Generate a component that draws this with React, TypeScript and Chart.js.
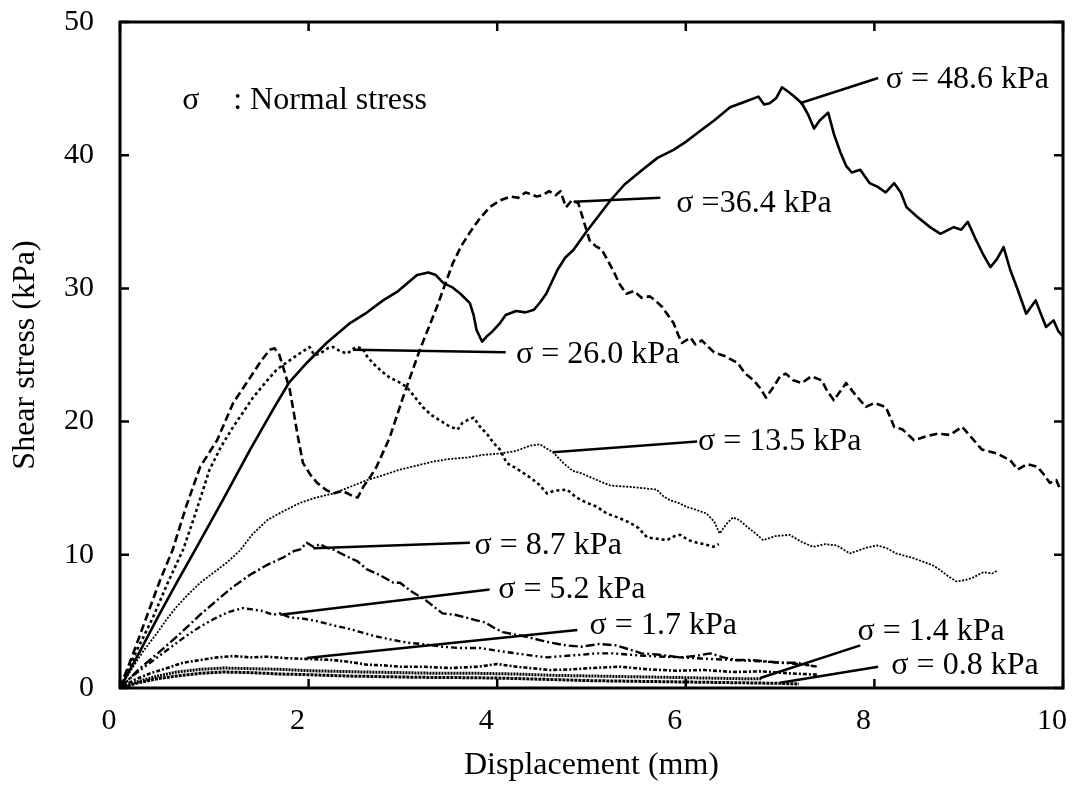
import React, { useEffect, useRef } from "react";
import { Chart, registerables } from "chart.js";

Chart.register(...registerables);

const FONT = '"Liberation Serif", "Times New Roman", Times, serif';

// ---- axis ticks ----
const xTickValues = [0, 2, 4, 6, 8, 10];
const yTickValues = [0, 10, 20, 30, 40, 50];

// ---- series (displacement mm, shear stress kPa) ----
const s486: [number, number][] = [
  [0, 0], [0.2, 2.6], [0.4, 5.3], [0.6, 7.9], [0.8, 10.4], [1.09, 14.1], [1.38, 17.9], [1.63, 21.0],
  [1.79, 22.9], [1.98, 24.4], [2.19, 25.9], [2.44, 27.4], [2.6, 28.1], [2.79, 29.1], [2.95, 29.8],
  [3.15, 31.0], [3.27, 31.2], [3.35, 31.0], [3.43, 30.4], [3.52, 30.1], [3.61, 29.6], [3.71, 28.9],
  [3.75, 28.0], [3.78, 26.9], [3.84, 26.0], [3.89, 26.4], [3.94, 26.7], [4.03, 27.4], [4.09, 28.0],
  [4.2, 28.3], [4.3, 28.2], [4.39, 28.4], [4.46, 29.0], [4.52, 29.6], [4.64, 31.4], [4.72, 32.3],
  [4.81, 32.9], [4.94, 34.2], [5.07, 35.4], [5.2, 36.6], [5.35, 37.8], [5.54, 38.9], [5.7, 39.8],
  [5.87, 40.4], [6.0, 41.0], [6.13, 41.7], [6.3, 42.6], [6.47, 43.6], [6.62, 44.0], [6.77, 44.4],
  [6.83, 43.8], [6.89, 43.9], [6.96, 44.3], [7.02, 45.1], [7.08, 44.8], [7.15, 44.4], [7.23, 43.9],
  [7.3, 43.0], [7.36, 42.0], [7.42, 42.6], [7.51, 43.2], [7.57, 41.6], [7.64, 40.2], [7.7, 39.2],
  [7.76, 38.7], [7.85, 38.9], [7.95, 37.9], [8.04, 37.6], [8.12, 37.2], [8.21, 37.9], [8.28, 37.2],
  [8.34, 36.1], [8.45, 35.4], [8.59, 34.6], [8.7, 34.1], [8.84, 34.6], [8.92, 34.4], [8.99, 35.0],
  [9.08, 33.6], [9.15, 32.6], [9.23, 31.6], [9.3, 32.2], [9.37, 33.1], [9.44, 31.4], [9.52, 29.9],
  [9.61, 28.1], [9.66, 28.6], [9.71, 29.1], [9.77, 28.0], [9.82, 27.1], [9.9, 27.6], [9.95, 26.8],
  [10.0, 26.4],
];

const s364: [number, number][] = [
  [0, 0], [0.14, 2.6], [0.28, 5.3], [0.42, 8.0], [0.56, 10.4], [0.7, 13.6], [0.85, 16.6], [1.03, 18.6],
  [1.2, 21.4], [1.38, 23.3], [1.5, 24.6], [1.59, 25.4], [1.64, 25.5], [1.69, 25.0], [1.73, 24.1],
  [1.8, 22.4], [1.84, 20.8], [1.88, 19.1], [1.94, 16.9], [2.02, 16.0], [2.09, 15.4], [2.18, 14.9],
  [2.26, 14.6], [2.36, 14.8], [2.47, 14.4], [2.52, 14.3], [2.58, 15.1], [2.65, 15.8], [2.72, 16.6],
  [2.86, 18.8], [3.0, 21.8], [3.18, 25.4], [3.36, 28.6], [3.53, 31.9], [3.62, 33.2], [3.71, 34.2],
  [3.81, 35.2], [3.92, 36.1], [4.03, 36.6], [4.14, 36.9], [4.22, 36.8], [4.3, 37.2], [4.35, 37.1],
  [4.42, 36.9], [4.48, 37.0], [4.55, 37.3], [4.62, 37.0], [4.67, 37.3], [4.73, 36.1], [4.79, 36.6],
  [4.86, 36.4], [4.92, 35.0], [4.98, 33.6], [5.04, 33.2], [5.11, 32.9], [5.18, 32.0], [5.24, 31.2],
  [5.3, 30.3], [5.37, 29.6], [5.45, 29.8], [5.53, 29.3], [5.62, 29.4], [5.69, 29.0], [5.75, 28.6],
  [5.81, 28.0], [5.87, 27.4], [5.92, 26.5], [5.96, 25.9], [6.05, 26.3], [6.1, 25.8], [6.17, 26.1],
  [6.24, 25.6], [6.3, 25.2], [6.42, 24.9], [6.55, 24.4], [6.63, 23.6], [6.72, 23.1], [6.79, 22.5],
  [6.85, 21.8], [6.93, 22.6], [7.0, 23.4], [7.06, 23.6], [7.14, 23.1], [7.23, 22.9], [7.33, 23.4],
  [7.44, 23.1], [7.5, 22.3], [7.57, 21.6], [7.63, 22.2], [7.7, 22.9], [7.8, 22.0], [7.91, 21.1],
  [8.0, 21.4], [8.12, 21.1], [8.17, 20.3], [8.21, 19.6], [8.3, 19.4], [8.42, 18.6], [8.55, 18.9],
  [8.67, 19.1], [8.8, 19.0], [8.93, 19.6], [9.03, 18.8], [9.14, 17.9], [9.3, 17.6], [9.44, 17.1],
  [9.52, 16.4], [9.62, 16.8], [9.73, 16.6], [9.8, 16.0], [9.86, 15.4], [9.93, 15.6], [9.97, 14.9],
];

const s260: [number, number][] = [
  [0, 0], [0.17, 2.7], [0.35, 5.3], [0.5, 7.8], [0.67, 10.4], [0.8, 13.1], [0.95, 16.4], [1.07, 18.1],
  [1.2, 19.6], [1.41, 21.8], [1.55, 23.0], [1.66, 23.9], [1.78, 24.5], [1.88, 25.0], [2.01, 25.6],
  [2.06, 25.0], [2.12, 25.1], [2.2, 25.5], [2.26, 25.6], [2.33, 25.3], [2.41, 25.1], [2.5, 25.6],
  [2.57, 25.5], [2.62, 24.9], [2.68, 24.4], [2.77, 23.8], [2.86, 23.3], [2.95, 23.0], [3.04, 22.6],
  [3.12, 21.9], [3.21, 21.1], [3.3, 20.5], [3.39, 20.1], [3.48, 19.7], [3.58, 19.4], [3.63, 19.9],
  [3.68, 20.1], [3.75, 20.3], [3.82, 19.6], [3.9, 19.0], [3.96, 18.4], [4.03, 17.9], [4.1, 16.9],
  [4.2, 16.5], [4.35, 15.8], [4.44, 15.3], [4.53, 14.6], [4.6, 14.8], [4.74, 14.9], [4.84, 14.3],
  [4.95, 13.9], [5.06, 13.6], [5.16, 13.1], [5.28, 12.8], [5.41, 12.4], [5.5, 12.0], [5.59, 11.3],
  [5.7, 11.2], [5.8, 11.1], [5.88, 11.4], [5.94, 11.5], [6.03, 11.1], [6.12, 10.9], [6.2, 10.8],
  [6.29, 10.6], [6.35, 10.8],
];

const s135: [number, number][] = [
  [0, 0], [0.07, 0.8], [0.14, 1.6], [0.25, 2.8], [0.39, 4.1], [0.5, 5.2], [0.6, 6.1], [0.72, 7.0],
  [0.85, 7.9], [1.0, 8.7], [1.13, 9.4], [1.27, 10.3], [1.4, 11.5], [1.56, 12.6], [1.74, 13.3],
  [1.91, 13.9], [2.08, 14.3], [2.26, 14.6], [2.44, 15.1], [2.62, 15.6], [2.8, 16.0], [2.97, 16.4],
  [3.15, 16.7], [3.32, 17.0], [3.5, 17.2], [3.68, 17.3], [3.85, 17.5], [4.03, 17.6], [4.2, 17.8],
  [4.35, 18.2], [4.45, 18.3], [4.52, 18.0], [4.59, 17.7], [4.7, 16.9], [4.8, 16.3], [4.9, 16.1],
  [5.06, 15.6], [5.2, 15.2], [5.41, 15.1], [5.55, 15.0], [5.69, 14.9], [5.76, 14.4], [5.83, 14.1],
  [5.92, 13.9], [6.01, 13.6], [6.1, 13.4], [6.22, 13.1], [6.3, 12.5], [6.36, 11.6], [6.43, 12.3],
  [6.5, 12.8], [6.57, 12.6], [6.65, 12.1], [6.74, 11.6], [6.82, 11.1], [6.95, 11.4], [7.1, 11.5],
  [7.22, 11.0], [7.35, 10.6], [7.48, 10.8], [7.6, 10.7], [7.74, 10.1], [7.9, 10.5], [8.03, 10.7],
  [8.13, 10.5], [8.23, 10.1], [8.39, 9.8], [8.55, 9.4], [8.62, 9.2], [8.69, 8.9], [8.78, 8.4],
  [8.87, 8.0], [8.96, 8.1], [9.05, 8.3], [9.1, 8.5], [9.16, 8.7], [9.25, 8.6], [9.3, 8.8],
];

const s87: [number, number][] = [
  [0, 0], [0.2, 1.4], [0.4, 2.6], [0.64, 4.1], [0.85, 5.5], [1.03, 6.6], [1.2, 7.6], [1.38, 8.5],
  [1.55, 9.2], [1.73, 9.8], [1.85, 10.3], [1.91, 10.4], [1.98, 10.9], [2.05, 10.6], [2.12, 10.8],
  [2.2, 10.5], [2.26, 10.4], [2.4, 9.9], [2.52, 9.5], [2.62, 8.9], [2.75, 8.5], [2.9, 7.9], [2.97, 7.9],
  [3.1, 7.2], [3.24, 6.6], [3.33, 6.1], [3.42, 5.6], [3.55, 5.5], [3.66, 5.3], [3.77, 5.1], [3.88, 4.9],
  [3.97, 4.5], [4.06, 4.2], [4.2, 4.0], [4.34, 3.8], [4.45, 3.6], [4.57, 3.4], [4.73, 3.2], [4.89, 3.1],
  [5.08, 3.3], [5.26, 3.2], [5.4, 2.9], [5.53, 2.6], [5.72, 2.5], [5.94, 2.3], [6.1, 2.4], [6.26, 2.6],
  [6.4, 2.3], [6.53, 2.1], [6.7, 2.1], [6.85, 2.0], [7.0, 1.9], [7.18, 1.9], [7.31, 1.7],
];

const s52: [number, number][] = [
  [0, 0], [0.15, 1.0], [0.3, 1.8], [0.5, 2.85], [0.68, 3.8], [0.85, 4.6], [1.0, 5.2], [1.15, 5.7],
  [1.3, 6.0], [1.4, 5.9], [1.5, 5.8], [1.62, 5.5], [1.7, 5.6], [1.8, 5.3], [1.95, 5.2], [2.1, 5.0],
  [2.26, 4.7], [2.4, 4.5], [2.55, 4.2], [2.7, 3.9], [2.9, 3.6], [3.05, 3.4], [3.2, 3.3], [3.42, 3.1],
  [3.6, 3.0], [3.82, 3.0], [4.0, 2.8], [4.2, 2.6], [4.4, 2.4], [4.53, 2.3], [4.7, 2.4], [4.9, 2.5],
  [5.05, 2.6], [5.23, 2.6], [5.4, 2.5], [5.6, 2.4], [5.94, 2.3], [6.2, 2.2], [6.5, 2.1], [6.8, 2.0],
  [7.0, 1.9], [7.2, 1.8], [7.4, 1.6],
];

const s17: [number, number][] = [
  [0, 0], [0.15, 0.6], [0.32, 1.1], [0.5, 1.5], [0.67, 1.9], [0.85, 2.1], [1.03, 2.3], [1.2, 2.4],
  [1.38, 2.3], [1.56, 2.35], [1.75, 2.25], [1.91, 2.2], [2.1, 2.15], [2.26, 2.1], [2.44, 1.95],
  [2.62, 1.75], [2.8, 1.7], [2.97, 1.6], [3.2, 1.6], [3.5, 1.5], [3.8, 1.6], [4.0, 1.8], [4.2, 1.6],
  [4.56, 1.35], [4.8, 1.4], [5.0, 1.5], [5.3, 1.6], [5.6, 1.4], [5.9, 1.3], [6.2, 1.35], [6.5, 1.2],
  [6.8, 1.25], [7.1, 1.1], [7.4, 1.0],
];

const s14: [number, number][] = [
  [0, 0], [0.2, 0.5], [0.4, 0.9], [0.6, 1.2], [0.85, 1.4], [1.1, 1.5], [1.4, 1.45], [1.7, 1.4],
  [2.0, 1.3], [2.3, 1.25], [2.6, 1.2], [3.0, 1.15], [3.4, 1.1], [3.8, 1.1], [4.2, 1.05], [4.6, 0.95],
  [5.0, 0.9], [5.4, 0.85], [5.8, 0.8], [6.2, 0.75], [6.6, 0.7], [6.8, 0.7],
];

const s08: [number, number][] = [
  [0, 0], [0.2, 0.4], [0.4, 0.7], [0.6, 0.9], [0.85, 1.1], [1.1, 1.2], [1.4, 1.15], [1.7, 1.05],
  [2.0, 1.0], [2.4, 0.9], [2.8, 0.85], [3.2, 0.8], [3.6, 0.78], [4.0, 0.75], [4.5, 0.65], [5.0, 0.55],
  [5.5, 0.5], [6.0, 0.45], [6.5, 0.4], [7.0, 0.35], [7.2, 0.3],
];

// ---- annotation labels (text, leader line start/end, text anchor) in data units ----
const labelTexts = [
  "σ = 48.6 kPa", "σ =36.4 kPa", "σ = 26.0 kPa", "σ = 13.5 kPa", "σ = 8.7 kPa",
  "σ = 5.2 kPa", "σ = 1.7 kPa", "σ = 1.4 kPa", "σ = 0.8 kPa",
];
const leaderLines: [number, number, number, number][] = [
  [7.21, 43.9, 8.04, 45.8],
  [4.81, 36.5, 5.73, 36.8],
  [2.47, 25.4, 4.09, 25.2],
  [4.59, 17.7, 6.12, 18.5],
  [2.05, 10.5, 3.71, 10.9],
  [1.7, 5.5, 3.92, 7.4],
  [1.98, 2.25, 4.85, 4.35],
  [6.79, 0.75, 7.85, 3.2],
  [7.0, 0.4, 8.04, 1.6],
];
const labelAnchors: [number, number][] = [
  [8.12, 45.7], [5.9, 36.4], [4.2, 25.0], [6.13, 18.5], [3.76, 10.7],
  [4.01, 7.4], [4.98, 4.65], [7.82, 4.2], [8.18, 1.7],
];
const legendSymbol = "σ";
const legendText = ": Normal stress";
const legendAnchor: [number, number] = [0.66, 44.1];
const legendTextX = 1.2;

type Style = { data: [number, number][]; width: number; dash: number[] };
const seriesStyles: Style[] = [
  { data: s486, width: 2.6, dash: [] },
  { data: s364, width: 2.6, dash: [8, 4] },
  { data: s260, width: 2.6, dash: [3, 3] },
  { data: s135, width: 1.8, dash: [2, 1.5] },
  { data: s87, width: 2.4, dash: [9, 3, 2, 3] },
  { data: s52, width: 2.4, dash: [6, 3, 2, 3, 2, 3] },
  { data: s17, width: 2.6, dash: [4, 2, 2, 2] },
  { data: s14, width: 3, dash: [2, 1] },
  { data: s08, width: 3, dash: [3, 1] },
];

const framePlugin = {
  id: "frameAndLabels",
  afterDatasetsDraw(chart: any) {
    const { ctx, chartArea: a, scales } = chart;
    const xs = scales.x;
    const ys = scales.y;
    ctx.save();
    ctx.strokeStyle = "#000";
    ctx.lineWidth = 3;
    ctx.setLineDash([]);
    ctx.strokeRect(a.left, a.top, a.right - a.left, a.bottom - a.top);
    ctx.lineWidth = 2.5;
    ctx.beginPath();
    const tl = 9;
    for (const v of xTickValues) {
      const px = xs.getPixelForValue(v);
      ctx.moveTo(px, a.bottom);
      ctx.lineTo(px, a.bottom - tl);
      ctx.moveTo(px, a.top);
      ctx.lineTo(px, a.top + tl);
    }
    for (const v of yTickValues) {
      const py = ys.getPixelForValue(v);
      ctx.moveTo(a.left, py);
      ctx.lineTo(a.left + tl, py);
      ctx.moveTo(a.right, py);
      ctx.lineTo(a.right - tl, py);
    }
    ctx.stroke();

    // leader lines
    ctx.lineWidth = 2.5;
    ctx.beginPath();
    for (const [x1, y1, x2, y2] of leaderLines) {
      ctx.moveTo(xs.getPixelForValue(x1), ys.getPixelForValue(y1));
      ctx.lineTo(xs.getPixelForValue(x2), ys.getPixelForValue(y2));
    }
    ctx.stroke();

    ctx.fillStyle = "#000";
    ctx.font = `32px ${FONT}`;
    ctx.textBaseline = "middle";
    ctx.textAlign = "left";
    labelTexts.forEach((t, i) => {
      const [tx, ty] = labelAnchors[i];
      ctx.fillText(t, xs.getPixelForValue(tx), ys.getPixelForValue(ty));
    });
    ctx.fillText(legendSymbol, xs.getPixelForValue(legendAnchor[0]), ys.getPixelForValue(legendAnchor[1]));
    ctx.fillText(legendText, xs.getPixelForValue(legendTextX), ys.getPixelForValue(legendAnchor[1]));
    ctx.restore();
  },
};

export default function App() {
  const ref = useRef<HTMLCanvasElement | null>(null);
  useEffect(() => {
    if (!ref.current) return;
    const chart = new Chart(ref.current, {
      type: "scatter",
      data: {
        datasets: seriesStyles.map((s) => ({
          data: s.data.map(([x, y]) => ({ x, y })),
          showLine: true,
          pointRadius: 0,
          borderColor: "#000",
          backgroundColor: "#000",
          borderWidth: s.width,
          borderDash: s.dash,
          borderJoinStyle: "round" as const,
          tension: 0,
          fill: false,
        })),
      },
      options: {
        animation: false,
        responsive: false,
        devicePixelRatio: 1,
        layout: { padding: { left: 0, top: 22, right: 14, bottom: 0 } },
        plugins: { legend: { display: false }, tooltip: { enabled: false } },
        scales: {
          x: {
            type: "linear",
            min: 0,
            max: 10,
            afterFit: (s: any) => { s.height = 98; s.paddingLeft = 0; s.paddingRight = 0; },
            afterBuildTicks: (s: any) => { s.ticks = xTickValues.map((v) => ({ value: v })); },
            grid: { display: false },
            border: { display: false },
            ticks: { color: "#000", font: { family: FONT, size: 30 }, padding: 7, labelOffset: -11, maxRotation: 0 },
            title: { display: true, text: "Displacement (mm)", color: "#000", font: { family: FONT, size: 32 }, padding: { top: 0, bottom: 1 } },
          },
          y: {
            type: "linear",
            min: 0,
            max: 50,
            afterFit: (s: any) => { s.width = 120; s.paddingTop = 0; s.paddingBottom = 0; },
            afterBuildTicks: (s: any) => { s.ticks = yTickValues.map((v) => ({ value: v })); },
            grid: { display: false },
            border: { display: false },
            ticks: { color: "#000", font: { family: FONT, size: 30 }, padding: 18 },
            title: { display: true, text: "Shear stress (kPa)", color: "#000", font: { family: FONT, size: 32 }, padding: { top: 6, bottom: 0 } },
          },
        },
      },
      plugins: [framePlugin],
    } as any);
    return () => chart.destroy();
  }, []);
  return (
    <div style={{ position: "absolute", left: 0, top: 0, width: 1077, height: 786, background: "#fff" }}>
      <canvas ref={ref} width={1077} height={786} style={{ width: 1077, height: 786 }} />
    </div>
  );
}
